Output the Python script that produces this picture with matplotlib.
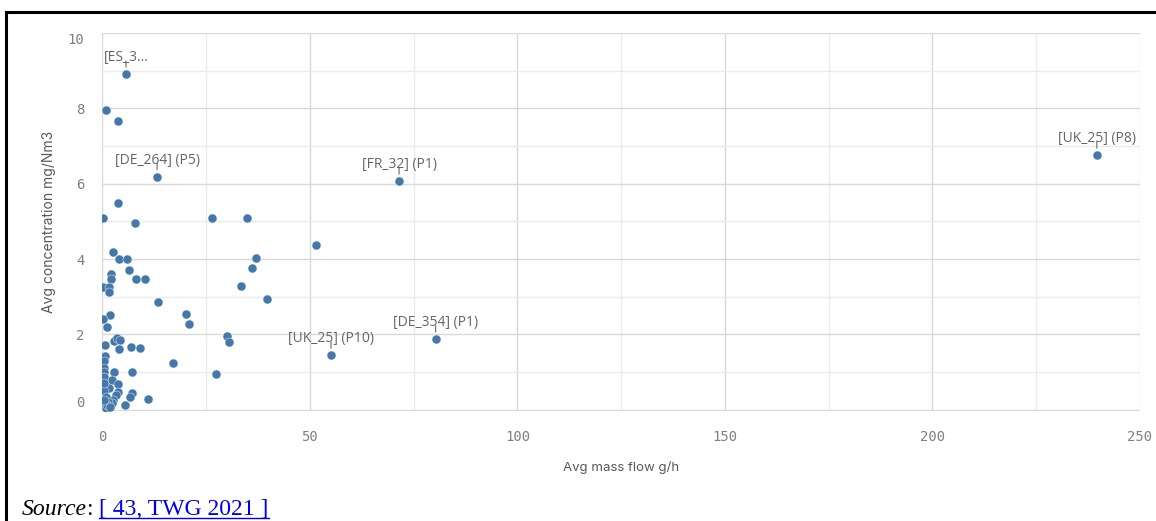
import matplotlib.pyplot as plt
import numpy as np
from matplotlib.lines import Line2D

# avg mass flow (g/h) and avg concentration (mg/Nm3) per plant
mass_flow = [5.7, 0.8, 3.7, 13.2, 3.9, 0.25, 7.9, 26.5, 34.9,
             2.5, 4.1, 5.9, 6.5, 2.0, 2.2, 8.2, 10.3, 0.25, 1.7, 1.5,
             37.0, 36.1, 33.4, 39.7, 13.4, 1.8, 0.25, 1.2, 20.1, 21.0,
             30.0, 30.6, 0.7, 2.7, 3.5, 4.3, 4.1, 6.8, 9.1, 17.1,
             0.6, 0.4, 0.5, 0.3, 0.4, 2.7, 7.2, 27.3, 2.3, 3.9,
             0.8, 1.6, 3.9, 3.2, 7.2, 6.7, 11.1, 5.5, 2.5, 2.3,
             0.3, 0.9, 1.4, 0.2, 0.8, 1.1, 0.5, 0.3, 1.9,
             71.5, 51.5, 80.3, 55.1, 239.6]
concentration = [8.91, 7.97, 7.66, 6.19, 5.49, 5.10, 4.95, 5.09, 5.09,
                 4.18, 3.99, 4.00, 3.71, 3.61, 3.47, 3.47, 3.47, 3.26, 3.25, 3.14,
                 4.02, 3.77, 3.30, 2.93, 2.86, 2.51, 2.42, 2.19, 2.55, 2.29,
                 1.96, 1.81, 1.71, 1.84, 1.91, 1.86, 1.61, 1.66, 1.63, 1.25,
                 1.42, 1.30, 1.12, 1.00, 0.88, 1.01, 1.01, 0.96, 0.78, 0.69,
                 0.60, 0.58, 0.48, 0.40, 0.45, 0.35, 0.29, 0.14, 0.27, 0.18,
                 0.50, 0.35, 0.22, 0.10, 0.05, 0.12, 0.70, 0.25, 0.08,
                 6.07, 4.37, 1.88, 1.45, 6.76]

# labelled points: (label, mass flow, concentration)
labels = [("[ES_3...", 5.7, 8.91),
          ("[DE_264] (P5)", 13.2, 6.19),
          ("[FR_32] (P1)", 71.5, 6.07),
          ("[DE_354] (P1)", 80.3, 1.88),
          ("[UK_25] (P10)", 55.1, 1.45),
          ("[UK_25] (P8)", 239.6, 6.76)]

W, H = 1156, 521
fig = plt.figure(figsize=(W / 100, H / 100), dpi=100)
ax = fig.add_axes([102.3 / W, 1 - 411 / H, (1140 - 102.3) / W, (411 - 33) / H])

ax.scatter(mass_flow, concentration, s=42, color='#4477aa',
           edgecolors='white', linewidths=0.3, zorder=3)

ax.set_xlim(0, 250)
ax.set_ylim(-0.03, 10)

# grid: major and minor lines
for v in range(0, 251, 25):
    ax.axvline(v, color='#d9d9d9' if v % 50 == 0 else '#ececec', lw=1, zorder=0)
for v in range(0, 11):
    ax.axhline(v, color='#d9d9d9' if v % 2 == 0 else '#ececec', lw=1, zorder=0)
for s in ax.spines.values():
    s.set_visible(False)

ax.set_xticks(range(0, 251, 50))
ax.set_yticks(range(0, 11, 2))
ax.tick_params(length=0, colors='#808080', labelsize=10)
ax.tick_params(axis='x', pad=14)
ax.tick_params(axis='y', pad=13)
for t in ax.get_xticklabels() + ax.get_yticklabels():
    t.set_family('DejaVu Sans Mono')
ylabs = ax.get_yticklabels()
ylabs[0].set_va('bottom')
ylabs[-1].set_va('top')

ax.set_xlabel('Avg mass flow g/h', family='Inter', fontsize=9.5,
              color='#595959', labelpad=12)
ax.set_ylabel('Avg concentration mg/Nm3', family='Inter', fontsize=10,
              color='#595959', labelpad=8)

for txt, x, y in labels:
    ax.annotate(txt, xy=(x, y), xytext=(0, 6.5), textcoords='offset points',
                ha='center', va='bottom', family='Open Sans', fontsize=10,
                color='#666666', zorder=4)
    ax.annotate('', xy=(x, y), xytext=(0, 9.5), textcoords='offset points',
                arrowprops=dict(arrowstyle='-', color='#666666', lw=0.8,
                                shrinkA=0, shrinkB=5))

# page frame
fig.add_artist(Line2D([6 / W, 6 / W], [0, 1 - 12 / H], color='black', lw=2.2))
fig.add_artist(Line2D([6 / W, 1], [1 - 12 / H, 1 - 12 / H], color='black', lw=2.2))

# source line
fig.canvas.draw()
r = fig.canvas.get_renderer()
base = 1 - 515 / H
t1 = fig.text(22 / W, base, 'Source', family='Liberation Serif',
              style='italic', fontsize=17, color='black')
x1 = t1.get_window_extent(r).x1
t2 = fig.text(x1 / W, base, ': ', family='Liberation Serif',
              fontsize=17, color='black')
x2 = t2.get_window_extent(r).x1
t3 = fig.text(x2 / W, base, '[ 43, TWG 2021 ]', family='Liberation Serif',
              fontsize=17, color='#0000ee')
bb = t3.get_window_extent(r)
uy = 1 - 518 / H
fig.add_artist(Line2D([bb.x0 / W, bb.x1 / W], [uy, uy], color='#0000ee', lw=1))

fig.savefig('out.png', dpi=100)
